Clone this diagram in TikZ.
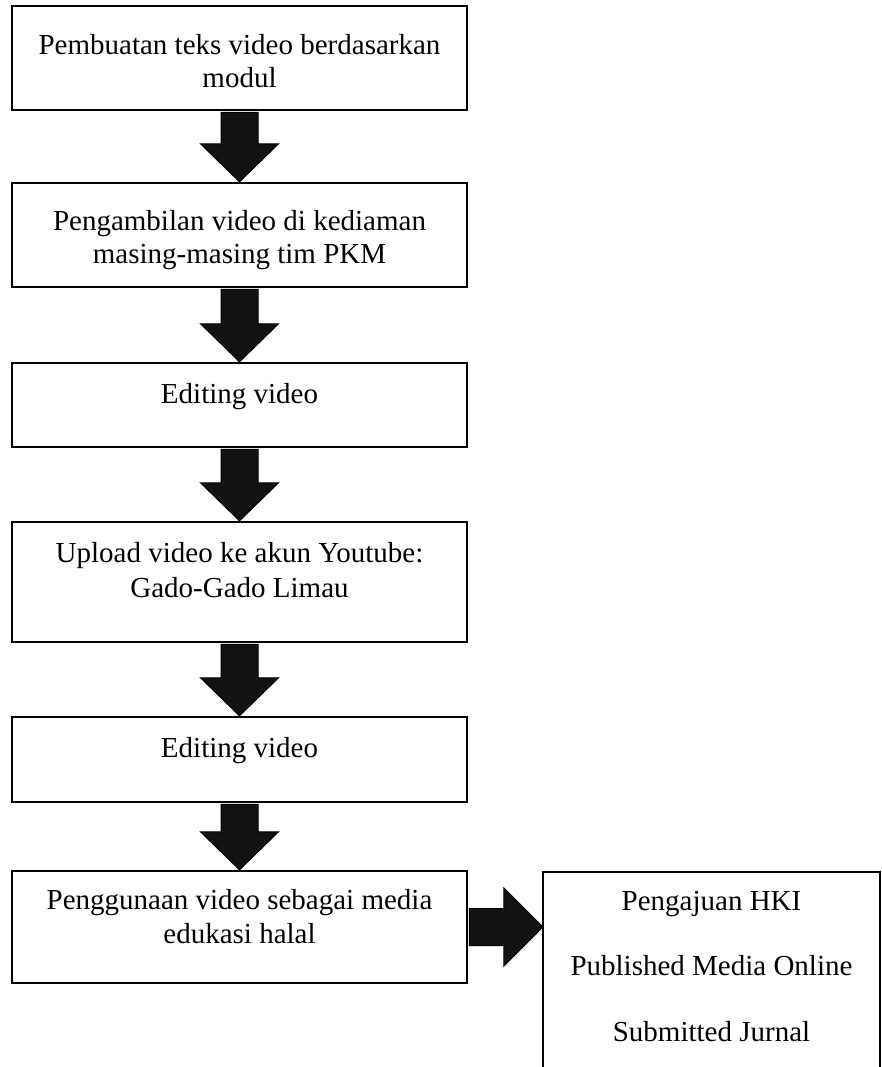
\documentclass[tikz,border=0pt]{standalone}
\usepackage{fontspec}
\setmainfont{Liberation Serif}
\usetikzlibrary{calc}
\begin{document}
\begin{tikzpicture}[x=1pt,y=-1pt,
  flowbox/.style={draw=black,line width=2.4pt,minimum width=455pt,inner sep=0pt,fill=white},
  txt/.style={anchor=base,inner sep=0pt,font=\fontsize{29}{34}\selectfont},
  blk/.style={draw=black,line width=1pt,fill=black!93,line join=miter},
  openbox/.style={draw=black,line width=1.8pt}]
\useasboundingbox (0,0) rectangle (882,1067);
% boxes
\node[flowbox,minimum height=104pt] (b1) at (239.5,58) {};
\node[flowbox,minimum height=104pt] (b2) at (239.5,235) {};
\node[flowbox,minimum height=84pt]  (b3) at (239.5,405) {};
\node[flowbox,minimum height=120pt] (b4) at (239.5,582) {};
\node[flowbox,minimum height=85pt]  (b5) at (239.5,759.5) {};
\node[flowbox,minimum height=112pt] (b6) at (239.5,927) {};
\node[minimum width=337pt,minimum height=110pt,inner sep=0pt] (r) at (711.5,927) {};
% texts
\node[txt] (t1a) at (239.5,55) {Pembuatan teks video berdasarkan};
\node[txt] (t1b) at (239.5,88) {modul};
\node[txt] (t2a) at (239.5,230) {Pengambilan video di kediaman};
\node[txt] (t2b) at (239.5,263) {masing-masing tim PKM};
\node[txt] (t3)  at (239.5,403) {Editing video};
\node[txt] (t4a) at (239.5,562) {Upload video ke akun Youtube:};
\node[txt] (t4b) at (239.5,597) {Gado-Gado Limau};
\node[txt] (t5)  at (239.5,757) {Editing video};
\node[txt] (t6a) at (239.5,909) {Penggunaan video sebagai media};
\node[txt] (t6b) at (239.5,943) {edukasi halal};
\node[txt] (r1) at (711.5,910) {Pengajuan HKI};
\node[txt] (r2) at (711.5,975) {Published Media Online};
\node[txt] (r3) at (711.5,1041) {Submitted Jurnal};
% open box on the right
\draw[openbox] ($(r.north west)+(0,200)$) -- (r.north west) -- (r.north east) -- ($(r.north east)+(0,200)$);
% down block arrows
\foreach \a/\b in {b1/b2,b2/b3,b3/b4,b4/b5,b5/b6}{
  \draw[blk] ($(\a.south)+(-18.5,1.2)$) -- ($(\b.north)+(-18.5,-38)$) -- ($(\b.north)+(-39,-38)$)
    -- (\b.north) -- ($(\b.north)+(39,-38)$) -- ($(\b.north)+(18.5,-38)$) -- ($(\a.south)+(18.5,1.2)$) -- cycle;
}
% right block arrow
\draw[blk] ($(b6.east)+(1.2,-18.5)$) -- ($(r.west)+(-39,-18.5)$) -- ($(r.west)+(-39,-39)$)
  -- (r.west) -- ($(r.west)+(-39,39)$) -- ($(r.west)+(-39,18.5)$) -- ($(b6.east)+(1.2,18.5)$) -- cycle;
\end{tikzpicture}
\end{document}
